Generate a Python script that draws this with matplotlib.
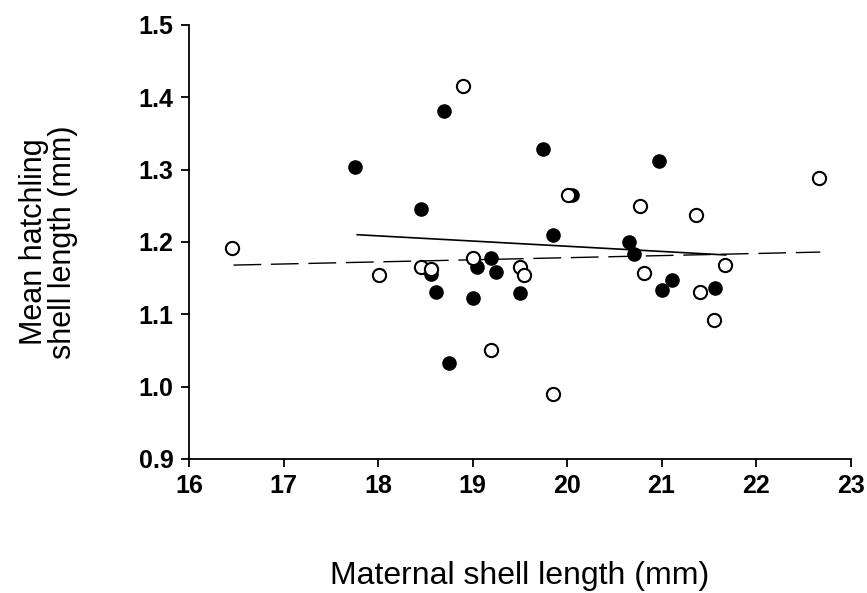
import matplotlib
matplotlib.use("Agg")
import matplotlib.pyplot as plt

plt.rcParams["font.family"] = ["Liberation Sans", "DejaVu Sans"]

# filled circles
filled_x = [17.76, 18.46, 18.70, 18.75, 18.56, 18.61, 19.00, 19.05, 19.20, 19.25,
            19.50, 19.75, 19.85, 20.05, 20.66, 20.71, 20.97, 21.01, 21.11, 21.57]
filled_y = [1.303, 1.245, 1.381, 1.032, 1.155, 1.131, 1.123, 1.166, 1.178, 1.158,
            1.130, 1.328, 1.210, 1.265, 1.200, 1.184, 1.312, 1.133, 1.148, 1.137]

# open circles
open_x = [16.46, 18.01, 18.46, 18.56, 18.90, 19.01, 19.20, 19.50, 19.55,
          19.85, 20.01, 20.77, 20.81, 21.37, 21.41, 21.56, 21.67, 22.67]
open_y = [1.192, 1.154, 1.165, 1.163, 1.416, 1.178, 1.051, 1.166, 1.154,
          0.990, 1.265, 1.250, 1.157, 1.237, 1.131, 1.092, 1.168, 1.289]

# fitted lines (end points)
solid_x = [17.78, 21.68]
solid_y = [1.210, 1.182]
dashed_x = [16.47, 22.68]
dashed_y = [1.168, 1.186]

x_ticks = [16, 17, 18, 19, 20, 21, 22, 23]
y_ticks = [0.9, 1.0, 1.1, 1.2, 1.3, 1.4, 1.5]


def main():
    fig = plt.figure(figsize=(8.67, 5.93), dpi=100)
    ax = fig.add_axes([0.218, 0.226, 0.763, 0.732])

    ax.plot(solid_x, solid_y, color="black", lw=1.2, zorder=2)
    ax.plot(dashed_x, dashed_y, color="black", lw=1.0, dashes=(20, 7), zorder=2)

    ax.plot(filled_x, filled_y, "o", color="black", markersize=9.5, zorder=3)
    ax.plot(open_x, open_y, "o", markerfacecolor="white", markeredgecolor="black",
            markeredgewidth=1.5, markersize=9.5, zorder=3)

    ax.set_xlim(16, 23)
    ax.set_ylim(0.9, 1.5)
    ax.set_xticks(x_ticks)
    ax.set_yticks(y_ticks)
    ax.set_yticklabels([f"{v:.1f}" for v in y_ticks])
    for lbl in ax.get_xticklabels() + ax.get_yticklabels():
        lbl.set_fontweight("bold")

    for s in ["top", "right"]:
        ax.spines[s].set_visible(False)
    ax.spines["left"].set_linewidth(1.3)
    ax.spines["bottom"].set_linewidth(1.3)
    ax.tick_params(direction="out", length=6, width=1.3, labelsize=18, pad=5)

    ax.set_xlabel("Maternal shell length (mm)", fontsize=23, labelpad=45)
    ax.set_ylabel("Mean hatchling\nshell length (mm)", fontsize=22,
                  linespacing=0.95, labelpad=44)

    fig.savefig("out.png", dpi=100)


if __name__ == "__main__":
    main()
